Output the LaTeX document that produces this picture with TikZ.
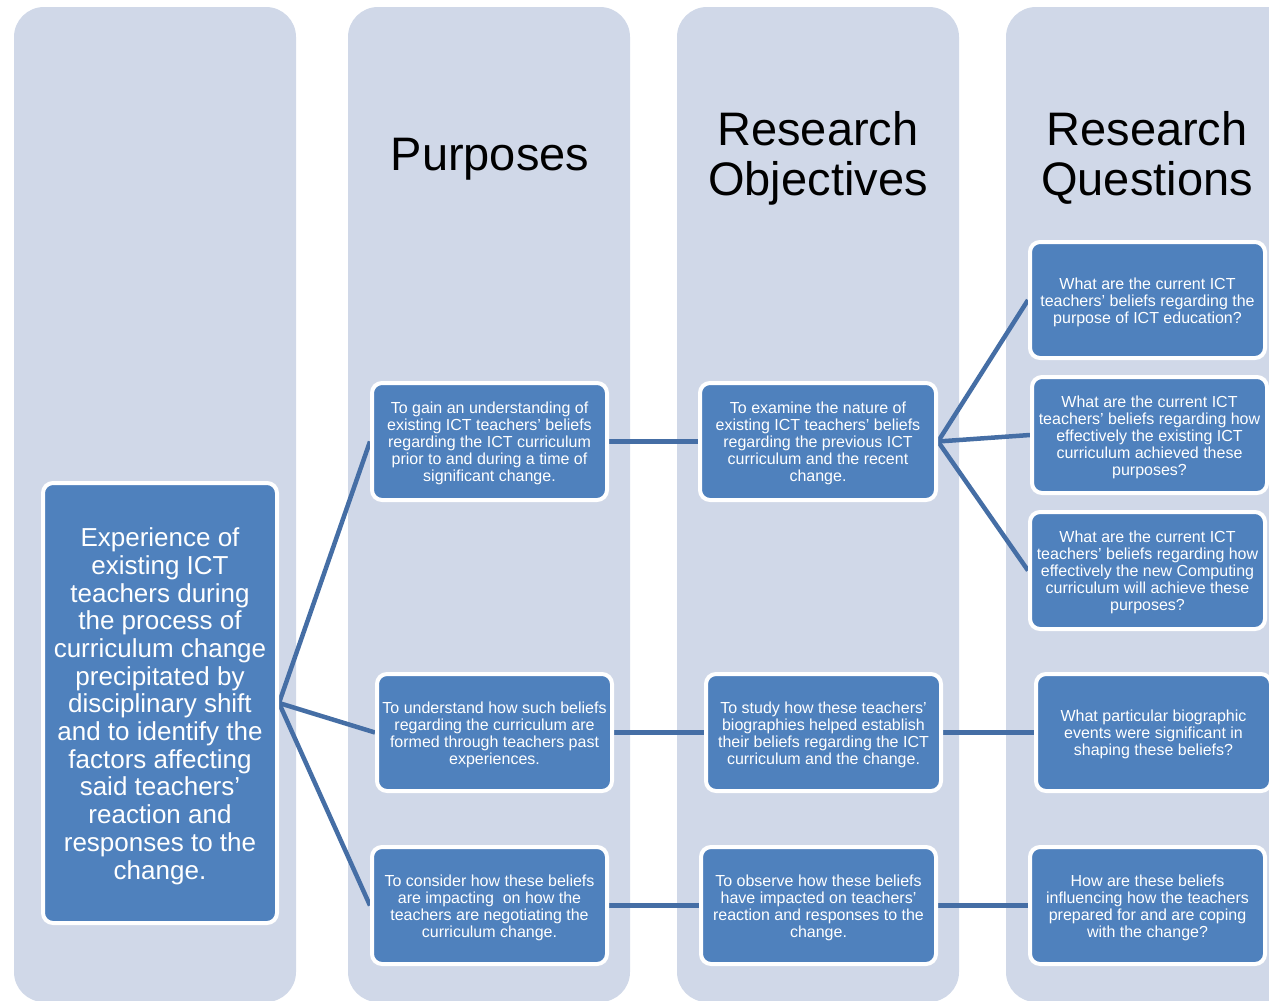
\documentclass[tikz,border=0pt]{standalone}
\usepackage{fontspec}
\setmainfont{Liberation Sans}
\definecolor{colbg}{RGB}{208,216,232}
\definecolor{boxfill}{RGB}{79,129,189}
\definecolor{connc}{RGB}{69,110,165}
\newcommand{\mystrut}{\rule{0pt}{15.5pt}}
\newcommand{\mybigstrut}{\rule{0pt}{25pt}}
\pgfdeclarelayer{cols}
\pgfdeclarelayer{lines}
\pgfsetlayers{cols,lines,main}
\begin{document}
\begin{tikzpicture}[x=1pt,y=-1pt,
  colbox/.style={fill=colbg, rounded corners=30pt},
  bbox/.style={draw=white, line width=4pt, fill=boxfill, rounded corners=10pt,
    text=white, align=center, font=\fontsize{16}{17}\selectfont, inner sep=2pt},
  bsize/.style 2 args={minimum width=#1, minimum height=#2},
  conn/.style={draw=connc, line width=4.5pt},
  title/.style={align=center, font=\fontsize{47}{50}\selectfont, text=black}]
\useasboundingbox (0,0) rectangle (1269,1001);
\clip (0,0) rectangle (1269,1001);
\begin{pgfonlayer}{cols}
  \path[colbox] (14,7) rectangle (296,1002);
  \path[colbox] (348,7) rectangle (630,1002);
  \path[colbox] (677,7) rectangle (959,1002);
  \path[colbox] (1006,7) rectangle (1300,1002);
\end{pgfonlayer}
\node[title] (t1) at (490,159) {Purposes};
\node[title] (t2) at (818,158) {Research\\Objectives};
\node[title] (t3) at (1147,158) {Research\\Questions};

\node[bbox, bsize={234pt}{440pt}, font=\fontsize{26}{27.7}\selectfont] (M) at (160,703)
  {\mybigstrut Experience of\\existing ICT\\teachers during\\the process of\\curriculum change\\precipitated by\\disciplinary shift\\and to identify the\\factors affecting\\said teachers’\\reaction and\\responses to the\\change.};

\node[bbox, bsize={235pt}{117pt}] (P1) at (489.5,441.5)
  {\mystrut To gain an understanding of\\existing ICT teachers’ beliefs\\regarding the ICT curriculum\\prior to and during a time of\\significant change.};
\node[bbox, bsize={235pt}{117pt}] (P2) at (494.5,732.5)
  {\mystrut To understand how such beliefs\\regarding the curriculum are\\formed through teachers past\\experiences.};
\node[bbox, bsize={235pt}{117pt}] (P3) at (489.5,905.5)
  {\mystrut To consider how these beliefs\\are impacting\ \ on how the\\teachers are negotiating the\\curriculum change.};

\node[bbox, bsize={236pt}{117pt}] (O1) at (818,441.5)
  {\mystrut To examine the nature of\\existing ICT teachers’ beliefs\\regarding the previous ICT\\curriculum and the recent\\change.};
\node[bbox, bsize={235pt}{117pt}] (O2) at (823.5,732.5)
  {\mystrut To study how these teachers’\\biographies helped establish\\their beliefs regarding the ICT\\curriculum and the change.};
\node[bbox, bsize={235pt}{117pt}] (O3) at (818.5,905.5)
  {\mystrut To observe how these beliefs\\have impacted on teachers’\\reaction and responses to the\\change.};

\node[bbox, bsize={235pt}{116pt}] (Q1) at (1147.5,300)
  {\mystrut What are the current ICT\\teachers’ beliefs regarding the\\purpose of ICT education?};
\node[bbox, bsize={235pt}{116pt}] (Q2) at (1149.5,435)
  {\mystrut What are the current ICT\\teachers’ beliefs regarding how\\effectively the existing ICT\\curriculum achieved these\\purposes?};
\node[bbox, bsize={235pt}{117pt}] (Q3) at (1147.5,570.5)
  {\mystrut What are the current ICT\\teachers’ beliefs regarding how\\effectively the new Computing\\curriculum will achieve these\\purposes?};
\node[bbox, bsize={235pt}{117pt}] (Q4) at (1153.5,732.5)
  {\mystrut What particular biographic\\events were significant in\\shaping these beliefs?};
\node[bbox, bsize={235pt}{117pt}] (Q5) at (1147.5,905.5)
  {\mystrut How are these beliefs\\influencing how the teachers\\prepared for and are coping\\with the change?};

\begin{pgfonlayer}{lines}
  \draw[conn] (M.east) -- (P1.west);
  \draw[conn] (M.east) -- (P2.west);
  \draw[conn] (M.east) -- (P3.west);
  \draw[conn] (P1.east) -- (O1.west);
  \draw[conn] (P2.east) -- (O2.west);
  \draw[conn] (P3.east) -- (O3.west);
  \draw[conn] (O1.east) -- (Q1.west);
  \draw[conn] (O1.east) -- (Q2.west);
  \draw[conn] (O1.east) -- (Q3.west);
  \draw[conn] (O2.east) -- (Q4.west);
  \draw[conn] (O3.east) -- (Q5.west);
\end{pgfonlayer}
\end{tikzpicture}
\end{document}
